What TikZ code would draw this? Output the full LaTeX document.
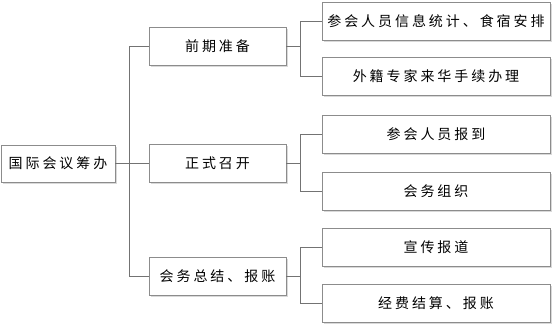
\documentclass[tikz,border=0pt]{standalone}
\usepackage{fontspec}
\setmainfont{Noto Sans CJK SC}[LetterSpace=21]
\usetikzlibrary{shadows}

\tikzset{
  box/.style={draw=black!45, fill=white, inner sep=0pt, font=\fontsize{14}{16}\selectfont,
    drop shadow={shadow xshift=1.5pt, shadow yshift=-1.5pt, fill=black!25, opacity=0.6}},
  rootbox/.style={box, minimum width=114pt, minimum height=37pt},
  midbox/.style={box, minimum width=137pt, minimum height=38pt},
  leafbox/.style={box, minimum width=228pt, minimum height=38pt},
  conn/.style={draw=black!55, line width=0.9pt}
}

\begin{document}
\begin{tikzpicture}[x=1pt, y=1pt]
  \useasboundingbox (0,0) rectangle (555,-327);

  % root
  \node[rootbox] (root) at (58,-163.5) {国际会议筹办};

  % first level
  \node[midbox] (prep) at (217.5,-46.5) {前期准备};
  \node[midbox] (open) at (217.5,-163.5) {正式召开};
  \node[midbox] (summ) at (217.5,-276) {会务总结、报账};

  % second level
  \foreach \name/\y/\txt in {
      infoa/21.5/参会人员信息统计、食宿安排,
      visa/76.5/外籍专家来华手续办理,
      regi/134.5/参会人员报到,
      orga/191/会务组织,
      publ/247/宣传报道,
      acct/303/经费结算、报账}
    \node[leafbox] (\name) at (436,-\y) {\txt};

  % branch points
  \coordinate (trunk) at (129,-163.5);
  \coordinate (bprep) at (300,-46.5);
  \coordinate (bopen) at (300,-163.5);
  \coordinate (bsumm) at (300,-276);

  % connectors
  \draw[conn] (root.east) -- (trunk);
  \draw[conn] (trunk) |- (prep.west);
  \draw[conn] (trunk) |- (open.west);
  \draw[conn] (trunk) |- (summ.west);

  \draw[conn] (prep.east) -- (bprep);
  \draw[conn] (bprep) |- (infoa.west);
  \draw[conn] (bprep) |- (visa.west);

  \draw[conn] (open.east) -- (bopen);
  \draw[conn] (bopen) |- (regi.west);
  \draw[conn] (bopen) |- (orga.west);

  \draw[conn] (summ.east) -- (bsumm);
  \draw[conn] (bsumm) |- (publ.west);
  \draw[conn] (bsumm) |- (acct.west);
\end{tikzpicture}
\end{document}
